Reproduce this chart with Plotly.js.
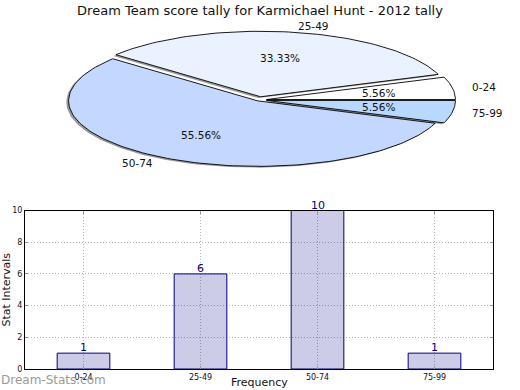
<!DOCTYPE html>
<html>
<head>
<meta charset="utf-8">
<script src="https://cdn.plot.ly/plotly-3.0.1.min.js"></script>
<style>html,body{margin:0;padding:0;background:#fff;}#chart{width:520px;height:390px;}</style>
</head>
<body>
<div id="chart"></div>
<script>
// ---- data ----
const categories = ['0-24', '25-49', '50-74', '75-99'];
const counts = [1, 6, 10, 1];
const chartTitle = 'Dream Team score tally for Karmichael Hunt - 2012 tally';
const xTitle = 'Frequency';
const yTitle = 'Stat Intervals';
const yTickValues = [0, 2, 4, 6, 8, 10];

// ---- styles ----
const sliceColors = ['#ffffff', '#eaf2ff', '#c4d8ff', '#b8d8ff'];
const explode = [0.04, 0.05, 0.015, 0.04];
const FONT = 'DejaVu Sans, sans-serif';

// pie geometry in pixels (used only to set the pie axes' ranges)
const W = 520, H = 390;
const cx = 259, cy = 100, rx = 189, ry = 65.5;
const pieTopPx = 0, pieBottomPx = 175.5;

const total = counts.reduce((a, b) => a + b, 0);
const traces = [];
const annotations = [];
const deg = Math.PI / 180;

function slicePath(a0, a1, ox, oy) {
  const xs = [ox], ys = [oy];
  const n = Math.max(4, Math.ceil((a1 - a0) / 1.5));
  for (let k = 0; k <= n; k++) {
    const a = (a0 + (a1 - a0) * k / n) * deg;
    xs.push(ox + Math.cos(a));
    ys.push(oy + Math.sin(a));
  }
  xs.push(ox); ys.push(oy);
  return [xs, ys];
}

let cum = 0;
const sliceInfo = counts.map((c, i) => {
  const a0 = cum / total * 360;
  cum += c;
  const a1 = cum / total * 360;
  const mid = (a0 + a1) / 2 * deg;
  return {a0, a1, mid, ox: explode[i] * Math.cos(mid), oy: explode[i] * Math.sin(mid)};
});

// shadows
sliceInfo.forEach((s, i) => {
  const [xs, ys] = slicePath(s.a0, s.a1, s.ox - 0.012, s.oy - 0.02);
  traces.push({type: 'scatter', mode: 'lines', x: xs, y: ys, xaxis: 'x2', yaxis: 'y2',
    fill: 'toself', fillcolor: 'rgba(70,70,70,0.55)', line: {width: 0, color: 'rgba(0,0,0,0)'},
    hoverinfo: 'skip', showlegend: false});
});
// slices
sliceInfo.forEach((s, i) => {
  const [xs, ys] = slicePath(s.a0, s.a1, s.ox, s.oy);
  traces.push({type: 'scatter', mode: 'lines', x: xs, y: ys, xaxis: 'x2', yaxis: 'y2',
    fill: 'toself', fillcolor: sliceColors[i], line: {width: 0.9, color: '#000'},
    name: categories[i], hoverinfo: 'name', showlegend: false});
  const pct = (counts[i] / total * 100).toFixed(2) + '%';
  annotations.push({xref: 'x2', yref: 'y2', x: s.ox + 0.6 * Math.cos(s.mid), y: s.oy + 0.6 * Math.sin(s.mid),
    text: pct, showarrow: false, xanchor: 'center', yanchor: 'middle', font: {family: FONT, size: 10.5, color: '#111'}});
  const lx = s.ox + 1.1 * Math.cos(s.mid), ly = s.oy + 1.1 * Math.sin(s.mid);
  annotations.push({xref: 'x2', yref: 'y2', x: lx, y: ly, text: categories[i], showarrow: false,
    xanchor: lx > 0 ? 'left' : 'right', yanchor: 'middle', borderpad: 0, font: {family: FONT, size: 10.5, color: '#111'}});
});

// bars
traces.push({type: 'bar', x: categories, y: counts, xaxis: 'x', yaxis: 'y', width: 0.45,
  marker: {color: 'rgba(0,0,128,0.2)', line: {color: '#000080', width: 1}}, showlegend: false});
categories.forEach((c, i) => {
  annotations.push({xref: 'x', yref: 'y', x: c, y: counts[i], text: String(counts[i]), showarrow: false,
    xanchor: 'center', yanchor: 'bottom', yshift: -3, font: {family: FONT, size: 11, color: '#000080'}});
});

// x axis title, as low as possible while staying visible
annotations.push({xref: 'paper', yref: 'paper', x: (25 + 493) / 2 / W, y: 0, xanchor: 'center', yanchor: 'bottom',
  text: xTitle, showarrow: false, borderpad: 0, font: {family: FONT, size: 11, color: '#111'}});

// watermark
annotations.push({xref: 'paper', yref: 'paper', x: 0, y: 10 / H, xanchor: 'left', yanchor: 'middle',
  text: 'Dream-Stats.com', showarrow: false, borderpad: 0, font: {family: FONT, size: 12, color: '#9a9a9a'}});

const layout = {
  width: W, height: H,
  margin: {l: 0, r: 0, t: 0, b: 0},
  paper_bgcolor: '#fff', plot_bgcolor: 'rgba(0,0,0,0)',
  showlegend: false,
  title: {text: chartTitle, x: 0.5, xanchor: 'center', y: 1 - 10 / H, yanchor: 'middle', yref: 'container',
    font: {family: FONT, size: 13, color: '#111'}},
  xaxis2: {domain: [0, 1], range: [(0 - cx) / rx, (W - cx) / rx], visible: false, fixedrange: true, anchor: 'y2'},
  yaxis2: {domain: [1 - pieBottomPx / H, 1 - pieTopPx / H], range: [(cy - pieBottomPx) / ry, (cy - pieTopPx) / ry],
    visible: false, fixedrange: true, anchor: 'x2'},
  xaxis: {domain: [25 / W, 493 / W], anchor: 'y', type: 'category', range: [-0.5, 3.5],
    showline: true, linecolor: '#000', linewidth: 1, mirror: 'ticks', ticks: 'inside', ticklen: 3, tickcolor: '#999',
    showgrid: true, gridcolor: '#b4b4b4', griddash: '1px,2px', gridwidth: 1, zeroline: false,
    tickfont: {family: FONT, size: 8, color: '#111'}},
  yaxis: {domain: [(H - 369) / H, (H - 210.5) / H], anchor: 'x', range: [0, 10], tickvals: yTickValues,
    showline: true, linecolor: '#000', linewidth: 1, mirror: 'ticks', ticks: 'inside', ticklen: 3, tickcolor: '#999',
    showgrid: true, gridcolor: '#b4b4b4', griddash: '1px,2px', gridwidth: 1, zeroline: false,
    tickfont: {family: FONT, size: 8, color: '#111'},
    title: {text: yTitle, standoff: 3, font: {family: FONT, size: 11, color: '#111'}}},
  annotations: annotations
};

Plotly.newPlot('chart', traces, layout, {displayModeBar: false, staticPlot: true});
</script>
</body>
</html>
